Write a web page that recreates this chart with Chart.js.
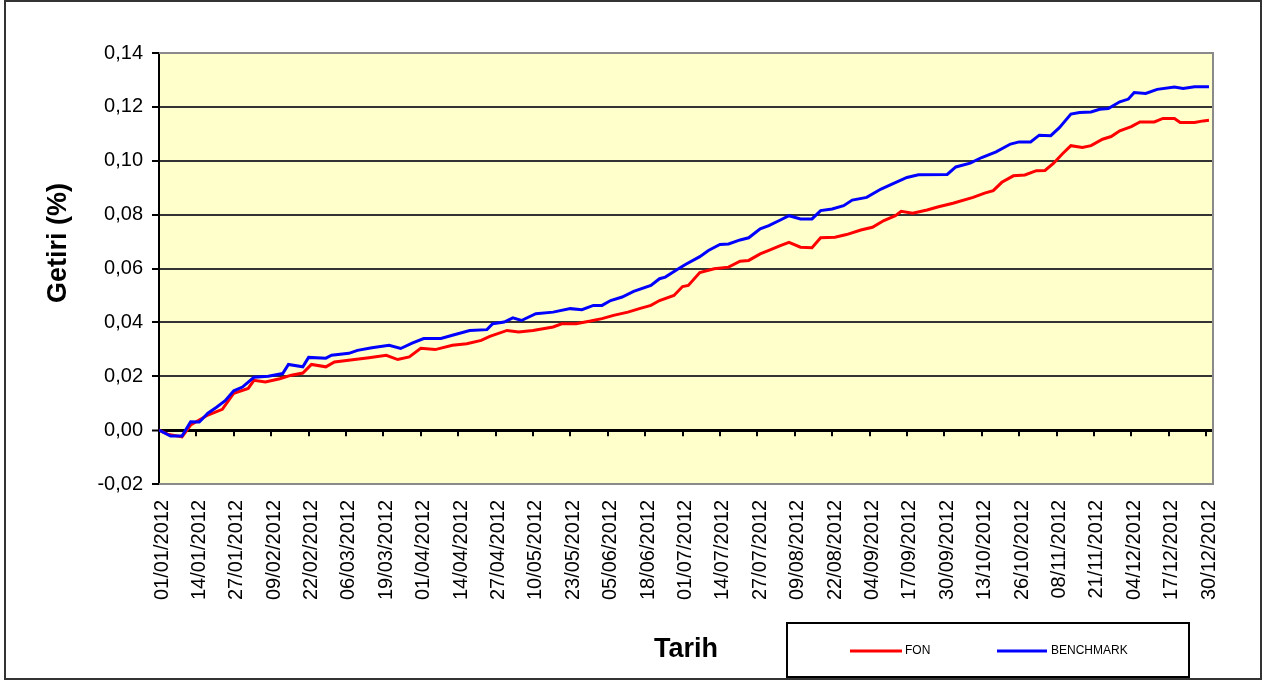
<!DOCTYPE html>
<html><head><meta charset="utf-8">
<script src="https://cdn.jsdelivr.net/npm/chart.js@4"></script>
<style>html,body{margin:0;padding:0;background:#fff;}canvas{display:block;}</style>
</head><body>
<canvas id="c" width="1271" height="684"></canvas>
<script>
const xTickLabels = ["01/01/2012","14/01/2012","27/01/2012","09/02/2012","22/02/2012","06/03/2012","19/03/2012","01/04/2012","14/04/2012","27/04/2012","10/05/2012","23/05/2012","05/06/2012","18/06/2012","01/07/2012","14/07/2012","27/07/2012","09/08/2012","22/08/2012","04/09/2012","17/09/2012","30/09/2012","13/10/2012","26/10/2012","08/11/2012","21/11/2012","04/12/2012","17/12/2012","30/12/2012"];
const xTickStepDays = 13;

const fonDays = [0,3,8,11,17,22,26,31,33,37,42,46,50,53,58,61,68,73,79,83,87,91,96,102,107,112,115,121,125,130,137,140,145,150,154,158,163,167,171,174,179,182,184,188,193,198,202,205,209,212,216,219,223,227,230,235,239,244,248,252,256,258,262,267,271,276,283,287,290,293,297,301,305,308,311,314,317,321,324,328,331,334,338,341,346,349,353,355,360,363,365];
const fonValues = [0,-0.0015,-0.0025,0.0019,0.0056,0.0077,0.0137,0.0155,0.0185,0.0179,0.0191,0.0204,0.0212,0.0244,0.0235,0.0253,0.0262,0.0269,0.0278,0.0262,0.0272,0.0304,0.0299,0.0315,0.0321,0.0333,0.0348,0.0370,0.0364,0.0370,0.0383,0.0395,0.0395,0.0405,0.0414,0.0426,0.0438,0.0451,0.0463,0.0481,0.0500,0.0533,0.0537,0.0585,0.0599,0.0605,0.0627,0.0630,0.0654,0.0667,0.0685,0.0697,0.0679,0.0677,0.0714,0.0716,0.0726,0.0743,0.0753,0.0778,0.0796,0.0812,0.0805,0.0817,0.0829,0.0842,0.0864,0.0880,0.0889,0.0920,0.0944,0.0947,0.0963,0.0964,0.0991,0.1025,0.1056,0.1049,0.1056,0.1080,0.1090,0.1111,0.1127,0.1144,0.1144,0.1157,0.1157,0.1142,0.1142,0.1148,0.1150];

const benchDays = [0,4,8,11,14,17,20,23,26,29,33,38,43,45,50,52,58,60,66,69,74,80,84,88,92,98,102,108,114,116,120,123,126,131,137,143,147,151,154,157,161,165,171,174,176,180,183,188,191,195,198,202,205,209,212,216,219,223,227,230,234,238,241,246,251,255,260,264,274,277,282,286,291,296,299,303,306,310,313,317,320,324,327,330,334,337,339,343,347,353,356,360,365];
const benchValues = [0,-0.0022,-0.0022,0.0031,0.0030,0.0063,0.0085,0.0109,0.0146,0.0160,0.0196,0.0200,0.0210,0.0244,0.0235,0.0270,0.0267,0.0278,0.0285,0.0296,0.0306,0.0315,0.0303,0.0323,0.0340,0.0340,0.0352,0.0370,0.0373,0.0395,0.0401,0.0417,0.0407,0.0432,0.0438,0.0451,0.0447,0.0463,0.0463,0.0481,0.0494,0.0515,0.0537,0.0562,0.0568,0.0595,0.0615,0.0644,0.0667,0.0689,0.0691,0.0706,0.0714,0.0747,0.0759,0.0780,0.0796,0.0784,0.0784,0.0815,0.0821,0.0833,0.0854,0.0864,0.0895,0.0914,0.0938,0.0948,0.0949,0.0977,0.0991,0.1012,0.1033,0.1062,0.1070,0.1070,0.1095,0.1093,0.1123,0.1173,0.1179,0.1181,0.1191,0.1194,0.1219,0.1229,0.1253,0.1250,0.1265,0.1274,0.1268,0.1275,0.1275];

const seriesNames = ["FON", "BENCHMARK"];
const seriesColors = ["#FF0000", "#0000FF"];
const yTitle = "Getiri (%)";
const xTitle = "Tarih";
const yMin = -0.02, yMax = 0.14, yStep = 0.02;

const toPoints = (d, v) => d.map((x, i) => ({x: x, y: v[i]}));

const bgPlugin = {
  id: 'bg',
  beforeDraw(chart) {
    const {ctx, chartArea: a} = chart;
    ctx.save();
    ctx.fillStyle = '#fff';
    ctx.fillRect(0, 0, chart.width, chart.height);
    ctx.fillStyle = '#FFFFCC';
    ctx.fillRect(a.left, a.top, a.right - a.left, a.bottom - a.top);
    ctx.restore();
  },
  beforeDatasetsDraw(chart) {
    const {ctx, chartArea: a, scales} = chart;
    ctx.save();
    ctx.strokeStyle = '#8a8a8a';
    ctx.lineWidth = 2;
    ctx.beginPath();
    ctx.moveTo(a.left, a.top); ctx.lineTo(a.right, a.top);
    ctx.lineTo(a.right, a.bottom); ctx.lineTo(a.left, a.bottom);
    ctx.stroke();
    const y0 = scales.y.getPixelForValue(0);
    ctx.strokeStyle = '#000';
    ctx.lineWidth = 2;
    ctx.beginPath();
    scales.x.ticks.forEach(t => {
      const px = Math.round(scales.x.getPixelForValue(t.value));
      ctx.moveTo(px, y0); ctx.lineTo(px, y0 + 6);
    });
    ctx.stroke();
    ctx.restore();
  },
  afterDraw(chart) {
    const {ctx} = chart;
    ctx.save();
    // y axis title
    ctx.save();
    ctx.translate(59, 243);
    ctx.rotate(-Math.PI / 2);
    ctx.font = 'bold 27px "Liberation Sans", Arial, sans-serif';
    ctx.fillStyle = '#000';
    ctx.textAlign = 'center';
    ctx.textBaseline = 'middle';
    ctx.fillText(yTitle, 0, 0);
    ctx.restore();
    // outer frame
    ctx.strokeStyle = '#333';
    ctx.lineWidth = 2;
    ctx.strokeRect(5, 1, 1256, 678);
    // legend box
    ctx.fillStyle = '#fff';
    ctx.fillRect(787, 623, 402, 54);
    ctx.strokeStyle = '#000';
    ctx.lineWidth = 2;
    ctx.strokeRect(787, 623, 402, 54);
    const items = [[850, 902, 905], [997, 1047, 1051]];
    ctx.font = '12px "Liberation Sans", Arial, sans-serif';
    ctx.textBaseline = 'middle';
    ctx.textAlign = 'left';
    chart.data.datasets.forEach((ds, i) => {
      const [x1, x2, tx] = items[i];
      ctx.strokeStyle = ds.borderColor;
      ctx.lineWidth = 3;
      ctx.beginPath(); ctx.moveTo(x1, 651); ctx.lineTo(x2, 651); ctx.stroke();
      ctx.fillStyle = '#000';
      ctx.fillText(ds.label, tx, 651);
    });
    ctx.restore();
  }
};

new Chart(document.getElementById('c'), {
  type: 'line',
  data: {
    datasets: [
      {label: seriesNames[0], data: toPoints(fonDays, fonValues), borderColor: seriesColors[0], borderWidth: 3, pointRadius: 0, tension: 0, order: 1},
      {label: seriesNames[1], data: toPoints(benchDays, benchValues), borderColor: seriesColors[1], borderWidth: 3, pointRadius: 0, tension: 0, order: 0}
    ]
  },
  options: {
    responsive: false,
    animation: false,
    devicePixelRatio: 1,
    layout: {padding: {left: 30, right: 58, top: 53, bottom: 0}},
    plugins: {legend: {display: false}, tooltip: {enabled: false}},
    scales: {
      x: {
        type: 'linear',
        min: 0,
        max: 366.4,
        afterBuildTicks: s => { s.ticks = xTickLabels.map((_, i) => ({value: i * xTickStepDays})); },
        afterFit: s => { s.height = 200; },
        grid: {display: false, drawTicks: false},
        border: {display: false},
        ticks: {
          autoSkip: false, minRotation: 90, maxRotation: 90, padding: 16, labelOffset: 3,
          color: '#000', font: {family: '"Liberation Sans", Arial, sans-serif', size: 20},
          callback: (v, i) => xTickLabels[i]
        },
        title: {display: true, text: xTitle, color: '#000', padding: {top: 0, bottom: 18},
          font: {family: '"Liberation Sans", Arial, sans-serif', size: 27, weight: 'bold'}}
      },
      y: {
        min: yMin, max: yMax,
        afterFit: s => { s.width = 129; },
        ticks: {
          stepSize: yStep, padding: 9, color: '#000',
          font: {family: '"Liberation Sans", Arial, sans-serif', size: 20},
          callback: v => v.toFixed(2).replace('.', ',')
        },
        grid: {
          tickLength: 7, tickColor: '#000', tickWidth: 2,
          color: c => {
            const v = c.tick.value;
            if (Math.abs(v - yMin) < 1e-9 || Math.abs(v - yMax) < 1e-9) return 'rgba(0,0,0,0)';
            return Math.abs(v) < 1e-9 ? '#000' : '#333';
          },
          lineWidth: c => Math.abs(c.tick.value) < 1e-9 ? 3 : 2
        },
        border: {display: true, color: '#000', width: 2},
        title: {display: false}
      }
    }
  },
  plugins: [bgPlugin]
});
</script>
</body></html>
